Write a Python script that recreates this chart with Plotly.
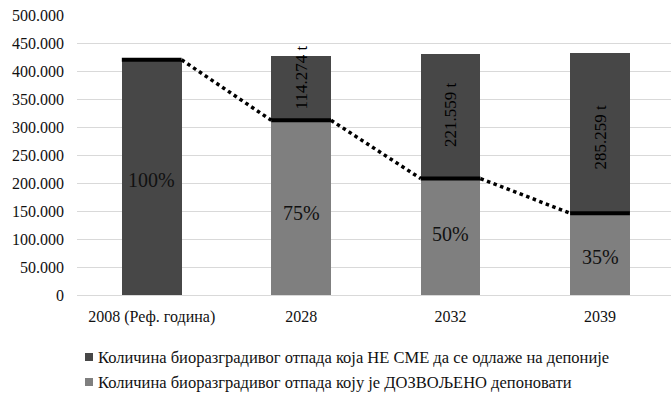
import plotly.graph_objects as go

# Categories (reference year + target years)
categories = ["2008 (Реф. година)", "2028", "2032", "2039"]

# Reference quantity of biodegradable waste in 2008 (t)
reference_2008 = 420000

# Quantity that is ALLOWED to be landfilled (t), target years
allowed = [312000, 208000, 146000]

# Quantity that must NOT be landfilled (t), target years
not_allowed = [114274, 221559, 285259]

# Share of the reference quantity allowed per bar
percent_labels = ["100%", "75%", "50%", "35%"]
tonnage_labels = ["114.274 t", "221.559 t", "285.259 t"]

series_names = [
    "Количина биоразградивог отпада која НЕ СМЕ да се одлаже на депоније",
    "Количина биоразградивог отпада коју је ДОЗВОЉЕНО депоновати",
]

y_ticks = [0, 50000, 100000, 150000, 200000, 250000, 300000, 350000, 400000, 450000, 500000]

DARK = "#474747"
LIGHT = "#7f7f7f"
TEXT = "#111111"
FONT = "'Liberation Serif', 'Times New Roman', 'DejaVu Serif', serif"
BAR_W = 0.4

W, H = 671, 393
ML, MR, MT, MB = 77, 0, 15, 98
PW, PH = W - ML - MR, H - MT - MB


def px_x(px):
    return (px - ML) / PW


def px_y(py):
    return (H - MB - py) / PH


x_pos = list(range(len(categories)))
target_x = x_pos[1:]

fig = go.Figure()

fig.add_trace(go.Bar(
    x=target_x, y=allowed, width=BAR_W,
    marker=dict(color=LIGHT, line=dict(width=0)),
    name=series_names[1], showlegend=False,
))
fig.add_trace(go.Bar(
    x=x_pos, y=[reference_2008] + not_allowed, width=BAR_W,
    marker=dict(color=DARK, line=dict(width=0)),
    name=series_names[0], showlegend=False,
))

# Limit line: solid across each bar, dotted between bars
limit = [reference_2008] + allowed
solid_x, solid_y, dot_x, dot_y = [], [], [], []
for i, v in enumerate(limit):
    solid_x += [x_pos[i] - BAR_W / 2, x_pos[i] + BAR_W / 2, None]
    solid_y += [v, v, None]
    if i + 1 < len(limit):
        dot_x += [x_pos[i] + BAR_W / 2, x_pos[i + 1] - BAR_W / 2, None]
        dot_y += [v, limit[i + 1], None]

fig.add_trace(go.Scatter(x=dot_x, y=dot_y, mode="lines",
                         line=dict(color="black", width=3.5, dash="dot"),
                         showlegend=False, hoverinfo="skip"))
fig.add_trace(go.Scatter(x=solid_x, y=solid_y, mode="lines",
                         line=dict(color="black", width=4),
                         showlegend=False, hoverinfo="skip"))

# Percentage labels, centred in the lower segment
pct_mid = [reference_2008 / 2] + [a / 2 for a in allowed]
pct_shift = [-3, -5, 3, -3]
for xi, yv, txt, sh in zip(x_pos, pct_mid, percent_labels, pct_shift):
    fig.add_annotation(x=xi, y=yv, text=txt, showarrow=False, yshift=sh,
                       font=dict(family=FONT, size=20, color=TEXT))

# Rotated tonnage labels in the upper segment
ton_mid = [a + n / 2 for a, n in zip(allowed, not_allowed)]
ton_shift = [11, 2, -4]
for xi, yv, txt, sh in zip(target_x, ton_mid, tonnage_labels, ton_shift):
    fig.add_annotation(x=xi, y=yv, text=txt, showarrow=False, yshift=sh,
                       textangle=-90,
                       font=dict(family=FONT, size=17, color="#000000"))

# Legend below the axis: square swatch + series name
for row, (name, col) in enumerate(zip(series_names, [DARK, LIGHT])):
    cy = 357 + 25 * row
    fig.add_shape(type="rect", xref="paper", yref="paper",
                  x0=px_x(85), x1=px_x(93), y0=px_y(cy + 4), y1=px_y(cy - 4),
                  fillcolor=col, line=dict(width=0))
    fig.add_annotation(xref="paper", yref="paper", x=px_x(96), y=px_y(cy),
                       xanchor="left", yanchor="middle", showarrow=False,
                       text=name, font=dict(family=FONT, size=16.5, color=TEXT))

fig.update_layout(
    width=W, height=H,
    margin=dict(l=ML, r=MR, t=MT, b=MB),
    barmode="stack",
    separators=",.",
    plot_bgcolor="white", paper_bgcolor="white",
    font=dict(family=FONT, size=16, color=TEXT),
    showlegend=False,
    xaxis=dict(
        tickmode="array", tickvals=x_pos, ticktext=categories,
        range=[-0.5, 3.475], showgrid=False, zeroline=False,
        showline=False, ticks="", ticklabelstandoff=10,
        tickfont=dict(family=FONT, size=16, color=TEXT),
    ),
    yaxis=dict(
        range=[0, 500000], tickvals=y_ticks, tickformat=",d",
        showgrid=True, gridcolor="#d9d9d9", gridwidth=1,
        zeroline=True, zerolinecolor="#d9d9d9", zerolinewidth=1,
        showline=False, ticks="", ticklabelstandoff=12,
        tickfont=dict(family=FONT, size=16, color=TEXT),
    ),
)

fig.write_html("out.html")
